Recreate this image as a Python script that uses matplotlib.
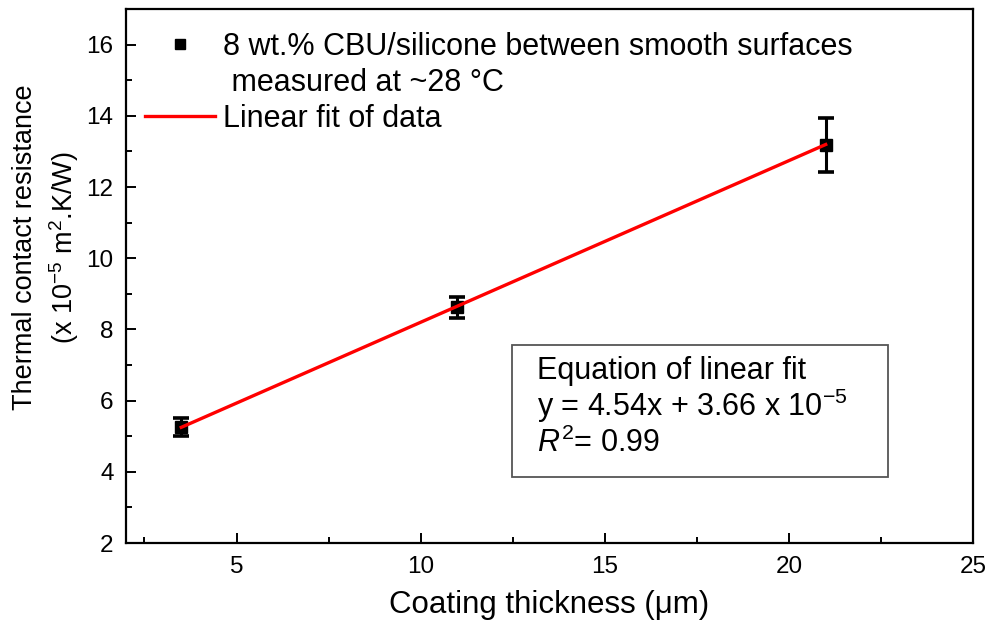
import matplotlib
matplotlib.use('Agg')
import matplotlib.pyplot as plt
from matplotlib.lines import Line2D
from matplotlib.patches import Rectangle
from matplotlib.ticker import MultipleLocator

plt.rcParams['font.family'] = ['Liberation Sans', 'DejaVu Sans']
plt.rcParams['mathtext.fontset'] = 'custom'
plt.rcParams['mathtext.rm'] = 'Liberation Sans'
plt.rcParams['mathtext.it'] = 'Liberation Sans:italic'

# measured data
thickness = [3.5, 11.0, 21.0]
resistance = [5.25, 8.62, 13.18]
resistance_err = [0.25, 0.30, 0.77]

# linear fit
fit_slope = 0.454
fit_intercept = 3.66
fit_x = [3.5, 21.0]
fit_y = [fit_slope * x + fit_intercept for x in fit_x]

fig = plt.figure(figsize=(9.87, 6.21), dpi=100)
ax = fig.add_axes([0.1277, 0.1256, 0.8581, 0.8599])

ax.errorbar(thickness, resistance, yerr=resistance_err, fmt='s', color='black',
            markersize=8, elinewidth=2.2, capsize=6, capthick=2.6, zorder=3)
ax.plot(fit_x, fit_y, color='red', linewidth=2.4, zorder=4)

ax.set_xlim(2, 25)
ax.set_ylim(2, 17)
ax.xaxis.set_major_locator(MultipleLocator(5))
ax.xaxis.set_minor_locator(MultipleLocator(2.5))
ax.yaxis.set_major_locator(MultipleLocator(2))
ax.yaxis.set_minor_locator(MultipleLocator(1))
ax.tick_params(which='both', direction='in', top=False, right=False, width=1.4)
ax.tick_params(which='major', length=7, labelsize=17.5)
ax.tick_params(axis='x', which='major', pad=9)
ax.tick_params(axis='y', which='major', pad=9)
ax.tick_params(which='minor', length=4)
for sp in ax.spines.values():
    sp.set_linewidth(1.6)

ax.set_xlabel('Coating thickness (μm)', fontsize=22.5, labelpad=9)
ax.set_ylabel('Thermal contact resistance\n(x 10$^{-5}$ m$^{2}$.K/W)', fontsize=19.5,
              linespacing=1.35)
ax.yaxis.set_label_coords(-0.053, 0.554)

# legend: the first label wraps onto a second row without a handle
handles = [
    Line2D([], [], marker='s', color='black', linestyle='none', markersize=7.5),
    Line2D([], [], linestyle='none'),
    Line2D([], [], color='red', linewidth=2.4),
]
labels = ['8 wt.% CBU/silicone between smooth surfaces',
          ' measured at ~28 °C',
          'Linear fit of data']
ax.legend(handles, labels, loc='upper left', bbox_to_anchor=(0.022, 0.957),
          frameon=False, fontsize=22, handlelength=2.3, handletextpad=0.25,
          labelspacing=0.2, borderpad=0, borderaxespad=0)

# equation box
ax.add_patch(Rectangle((0.4557, 0.1236), 0.444, 0.2472, transform=ax.transAxes,
                       fill=False, edgecolor='#555555', linewidth=1.3, zorder=2))
ax.text(0.485, 0.322, 'Equation of linear fit', transform=ax.transAxes,
        fontsize=22, va='center')
ax.text(0.485, 0.2565, 'y = 4.54x + 3.66 x 10$^{-5}$', transform=ax.transAxes,
        fontsize=22, va='center')
ax.text(0.485, 0.1875, '$R^{2}$= 0.99', transform=ax.transAxes,
        fontsize=22, va='center')

fig.savefig('out.png', dpi=100)
